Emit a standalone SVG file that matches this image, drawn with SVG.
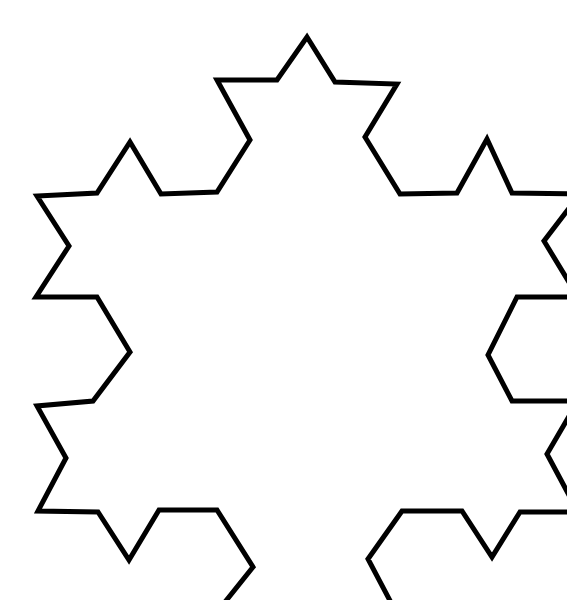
<svg xmlns="http://www.w3.org/2000/svg" width="567" height="600" viewBox="0 0 567 600">
<style>
.koch{fill:none;stroke:#000;stroke-width:5;stroke-linejoin:miter;stroke-miterlimit:4}
</style>
<rect width="567" height="600" fill="#fff"/>
<path id="snowflake" class="koch" d="M307,37 L335,82 L397,84 L365,137 L400,194 L457,193 L487,139 L512,193 L580,194 L544,241 L578,297 L517,297 L488,355 L512,401 L578,401 L547,454 L578,512 L520,512 L492,557 L462,511 L402,511 L368,559 L396,612 L338,612 L307,665 L277,612 L217,612 L253,567 L217,510 L159,510 L129,560 L98,512 L38,511 L66,458 L37,406 L93,401 L130,352 L97,297 L36,297 L69,246 L37,196 L97,193 L130,142 L161,194 L217,192 L250,140 L217,80 L277,80 Z"/>
</svg>
